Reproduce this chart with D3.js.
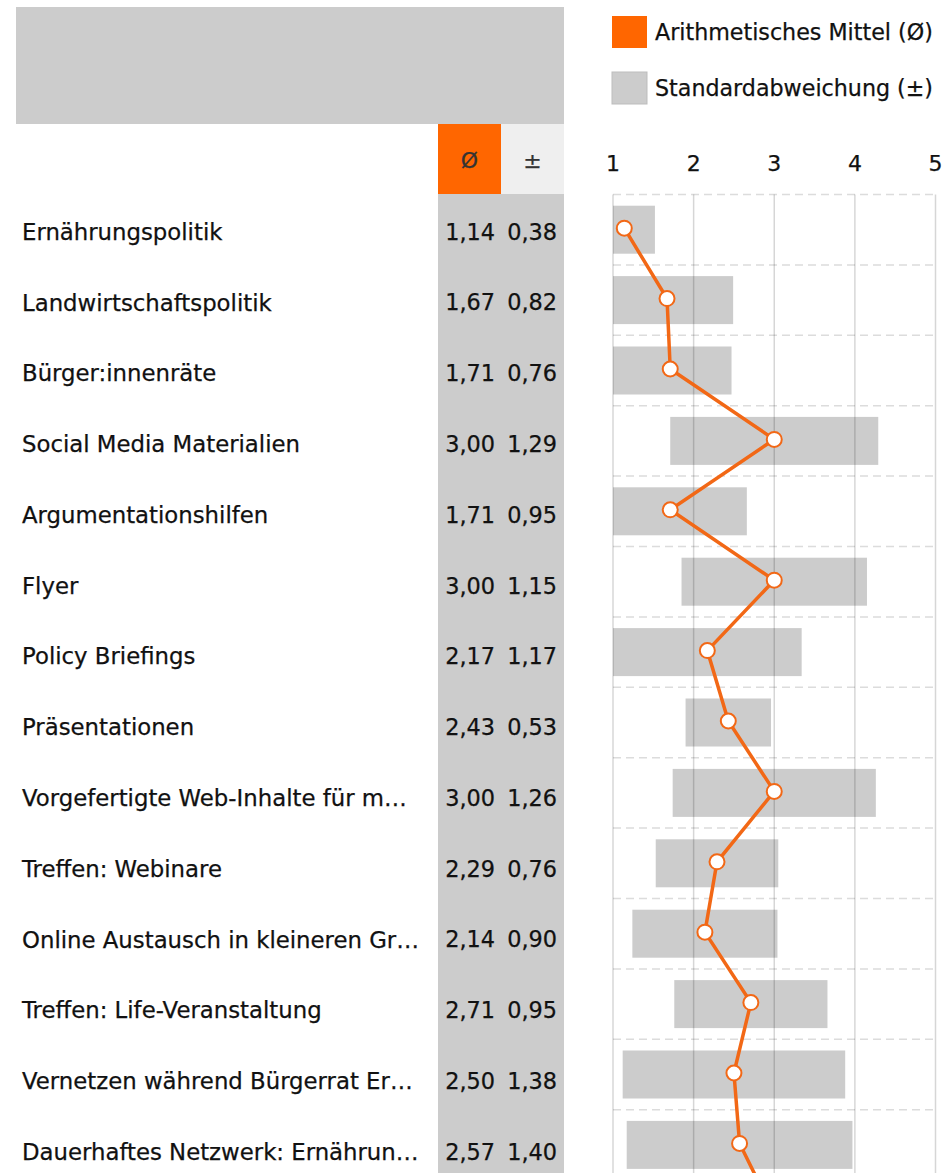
<!DOCTYPE html>
<html>
<head>
<meta charset="utf-8">
<script src="https://cdn.jsdelivr.net/npm/d3@7"></script>
<style>
  body { margin: 0; background: #fff; overflow: hidden; }
  text { font-family: "DejaVu Sans", Verdana, sans-serif; fill: #111; stroke: #111; stroke-width: 0.25px; }
</style>
</head>
<body>
<div class="main-container"></div>
<script>
// items (last row is cut off by the page edge, only its line segment shows)
const labels = [
  "Ernährungspolitik",
  "Landwirtschaftspolitik",
  "Bürger:innenräte",
  "Social Media Materialien",
  "Argumentationshilfen",
  "Flyer",
  "Policy Briefings",
  "Präsentationen",
  "Vorgefertigte Web-Inhalte für m…",
  "Treffen: Webinare",
  "Online Austausch in kleineren Gr…",
  "Treffen: Life-Veranstaltung",
  "Vernetzen während Bürgerrat Er…",
  "Dauerhaftes Netzwerk: Ernährun…",
  ""
];
const means = [1.14, 1.67, 1.71, 3.00, 1.71, 3.00, 2.17, 2.43, 3.00, 2.29, 2.14, 2.71, 2.50, 2.57, 3.00];
const sds   = [0.38, 0.82, 0.76, 1.29, 0.95, 1.15, 1.17, 0.53, 1.26, 0.76, 0.90, 0.95, 1.38, 1.40, 1.00];
const ticks = [1, 2, 3, 4, 5];
const legendItems = ["Arithmetisches Mittel (Ø)", "Standardabweichung (±)"];

const width = 946, height = 1173;
const orange = "#ff6600", line = "#f26816", gray = "#cccccc";

const data = labels.map((l, i) => ({label: l, mean: means[i], sd: sds[i], i: i}));
const fmt = v => d3.format(".2f")(v).replace(".", ",");

const svg = d3.select(".main-container")
  .append("svg")
  .attr("width", width)
  .attr("height", height);

// scales
let x = d3.scaleLinear().domain([1, 5]).range([613, 935.5]);
let yChart = d3.scaleBand().domain(d3.range(data.length))
  .range([194.5, 194.5 + 70.4 * data.length]).paddingInner(0).paddingOuter(0);
let yTable = d3.scaleBand().domain(d3.range(data.length))
  .range([196.5, 196.5 + 70.77 * data.length]);

// left table background
svg.append("rect").attr("x", 16).attr("y", 7).attr("width", 548).attr("height", 117).attr("fill", gray);
svg.append("rect").attr("x", 438).attr("y", 124).attr("width", 63).attr("height", 70).attr("fill", orange);
svg.append("rect").attr("x", 501).attr("y", 124).attr("width", 63).attr("height", 70).attr("fill", "#efefef");
svg.append("rect").attr("x", 438).attr("y", 194).attr("width", 126).attr("height", height).attr("fill", gray);

svg.append("text").attr("x", 469.5).attr("y", 160).attr("dy", "0.35em")
  .attr("text-anchor", "middle").style("font-size", "22px").style("fill", "#333").style("stroke", "#333").text("Ø");
svg.append("text").attr("x", 532.5).attr("y", 160).attr("dy", "0.35em")
  .attr("text-anchor", "middle").style("font-size", "22px").style("fill", "#333").style("stroke", "#333").text("±");

// table rows
const rows = svg.append("g").selectAll("g").data(data).join("g")
  .attr("transform", d => `translate(0,${yTable(d.i) + yTable.bandwidth() / 2})`);
rows.append("text").attr("x", 22).attr("dy", "0.35em").style("font-size", "22.8px").text(d => d.label);
rows.append("text").attr("x", 495).attr("dy", "0.35em").attr("text-anchor", "end")
  .style("font-size", "22.4px").text(d => d.label ? fmt(d.mean) : "");
rows.append("text").attr("x", 557).attr("dy", "0.35em").attr("text-anchor", "end")
  .style("font-size", "22.4px").text(d => d.label ? fmt(d.sd) : "");

// legend
const legend = svg.append("g").selectAll("g").data(legendItems).join("g")
  .attr("transform", (d, i) => `translate(612,${16 + i * 56})`);
legend.append("rect").attr("width", 35).attr("height", 32)
  .attr("fill", (d, i) => i === 0 ? orange : gray)
  .attr("stroke", (d, i) => i === 0 ? "none" : "#bdbdbd").attr("stroke-width", 1);
legend.append("text").attr("x", 43).attr("y", 16).attr("dy", "0.35em")
  .style("font-size", "22.2px").text(d => d);

// tick labels
svg.append("g").selectAll("text").data(ticks).join("text")
  .attr("x", d => x(d)).attr("y", 163).attr("dy", "0.35em").attr("text-anchor", "middle")
  .style("font-size", "22px").text(d => d);

// sd bars
const barH = 48;
svg.append("g").selectAll("rect").data(data).join("rect")
  .attr("x", d => x(Math.max(1, d.mean - d.sd)))
  .attr("width", d => x(Math.min(5, d.mean + d.sd)) - x(Math.max(1, d.mean - d.sd)))
  .attr("y", d => yChart(d.i) + (yChart.bandwidth() - barH) / 2)
  .attr("height", barH)
  .attr("fill", gray);

// horizontal dashed separators
svg.append("g").selectAll("line").data(d3.range(data.length + 1)).join("line")
  .attr("x1", x(1)).attr("x2", x(5))
  .attr("y1", d => 194.5 + d * yChart.step()).attr("y2", d => 194.5 + d * yChart.step())
  .attr("stroke", "#dcdcdc").attr("stroke-width", 1.5).attr("stroke-dasharray", "8,5");

// vertical grid lines
svg.append("g").selectAll("line").data(ticks).join("line")
  .attr("x1", d => x(d)).attr("x2", d => x(d))
  .attr("y1", 194.5).attr("y2", height + 100)
  .attr("stroke", "rgba(0,0,0,0.16)").attr("stroke-width", 1.5);

// mean line + points
svg.append("path")
  .datum(data)
  .attr("fill", "none")
  .attr("stroke", line)
  .attr("stroke-width", 3.5)
  .attr("d", d3.line()
    .x(d => x(d.mean))
    .y(d => yChart(d.i) + yChart.bandwidth() / 2 - 1.5));

svg.append("g").selectAll("circle").data(data).join("circle")
  .attr("cx", d => x(d.mean))
  .attr("cy", d => yChart(d.i) + yChart.bandwidth() / 2 - 1.5)
  .attr("r", 7.5)
  .attr("fill", "#fff")
  .attr("stroke", line)
  .attr("stroke-width", 2);
</script>
</body>
</html>
